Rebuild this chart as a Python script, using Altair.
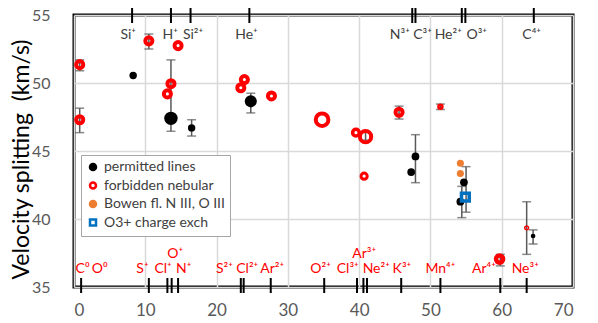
import altair as alt
import pandas as pd

FONT = "Lato"

# ---- data ----
# permitted lines (black dots)
perm_x = [8.3, 13.6, 16.5, 24.8, 47.3, 47.9, 54.7, 54.2, 64.4]
perm_y = [50.55, 47.4, 46.7, 48.65, 43.45, 44.6, 42.7, 41.27, 38.75]
perm_w = [55, 180, 55, 145, 60, 60, 60, 60, 22]

# forbidden nebular lines (red rings)
forb_x = [0.8, 0.8, 10.5, 13.1, 13.6, 14.6, 23.4, 23.9, 27.7, 34.8, 39.55, 40.9, 40.7, 45.6, 51.4, 59.7, 63.5]
forb_y = [51.35, 47.3, 53.1, 49.2, 49.95, 52.75, 49.65, 50.25, 49.05, 47.3, 46.35, 46.05, 43.15, 47.85, 48.25, 37.05, 39.35]
forb_w = [50, 50, 50, 50, 50, 50, 50, 50, 50, 160, 44, 127, 38, 50, 16, 50, 15]
forb_sw = [4, 4, 4, 4, 4, 4, 4, 4, 4, 4, 3.5, 4, 3, 4, 2.5, 4.5, 1.5]

# Bowen fluorescence (orange dots)
bowen_x = [54.2, 54.2]
bowen_y = [44.1, 43.35]
bowen_w = [50, 50]

# O3+ charge exchange (blue square)
cx_x = [54.9]
cx_y = [41.6]
cx_w = [60]

# error bars
err_x = [0.8, 0.8, 10.5, 13.6, 16.5, 24.8, 40.9, 45.6, 51.4, 47.9, 55.0, 54.4, 63.5, 64.4, 59.8]
err_lo = [50.9, 46.35, 52.5, 46.45, 46.1, 47.8, 45.8, 47.35, 48.05, 42.67, 40.5, 40.1, 37.4, 38.16, 36.55]
err_hi = [51.7, 48.15, 53.6, 51.7, 47.3, 49.25, 46.4, 48.3, 48.45, 46.2, 43.85, 42.4, 41.27, 39.2, 37.4]

# ions on top axis (permitted)
top_ion_e = [8.15, 13.6, 16.35, 24.6, 47.45, 47.9, 54.4, 54.9, 64.5]
top_lab = ["Si⁺", "H⁺", "Si²⁺", "He⁺", "N³⁺", "C³⁺", "He²⁺", "O³⁺", "C⁴⁺"]
top_lab_x = [7.6, 13.5, 16.7, 24.2, 45.7, 48.9, 52.5, 56.5, 64.2]

# ions on bottom axis (forbidden)
bot_ion_e = [1.0, 10.5, 13.1, 13.7, 14.6, 23.4, 23.8, 27.6, 35.1, 39.7, 40.6, 41.1, 45.9, 51.4, 59.8, 63.5]
bot_lab = ["C⁰", "O⁰", "S⁺", "Cl⁺", "N⁺", "S²⁺", "Cl²⁺", "Ar²⁺", "O²⁺", "Cl³⁺", "Ne²⁺", "K³⁺", "Mn⁴⁺", "Ar⁴⁺", "Ne³⁺"]
bot_lab_x = [1.2, 3.6, 9.6, 12.5, 15.4, 21.1, 24.3, 27.8, 34.6, 38.4, 42.4, 46.0, 51.4, 57.5, 63.3]
bot_up_lab = ["O⁺", "Ar³⁺"]
bot_up_lab_x = [14.2, 40.7]

SERIES = ["permitted lines", "forbidden nebular", "Bowen fl. N III, O III", "O3+ charge exch"]

pts = pd.concat([
    pd.DataFrame({"x": perm_x, "y": perm_y, "w": perm_w, "series": SERIES[0], "sw": 0.0}),
    pd.DataFrame({"x": forb_x, "y": forb_y, "w": forb_w, "series": SERIES[1], "sw": forb_sw}),
    pd.DataFrame({"x": bowen_x, "y": bowen_y, "w": bowen_w, "series": SERIES[2], "sw": 0.0}),
    pd.DataFrame({"x": cx_x, "y": cx_y, "w": cx_w, "series": SERIES[3], "sw": 3.5}),
], ignore_index=True)

err = pd.DataFrame({"x": err_x, "lo": err_lo, "hi": err_hi})
top_t = pd.DataFrame({"x": top_ion_e})
top_l = pd.DataFrame({"x": top_lab_x, "t": top_lab})
bot_t = pd.DataFrame({"x": bot_ion_e})
bot_l = pd.DataFrame({"x": bot_lab_x, "t": bot_lab})
bot_u = pd.DataFrame({"x": bot_up_lab_x, "t": bot_up_lab})

xs = alt.Scale(domain=[0, 70], nice=False, zero=False)
ys = alt.Scale(domain=[35, 55], nice=False, zero=False)

X = alt.X("x:Q", scale=xs, axis=alt.Axis(values=list(range(0, 71, 10)), title=None,
          labelFontSize=17, labelColor="#595959", labelPadding=15, tickSize=0,
          domain=False, grid=True, gridColor="#d9d9d9", gridWidth=1.5, labelFont=FONT))

ERR_C = "#595959"
rules = alt.Chart(err).mark_rule(color=ERR_C, strokeWidth=1.5).encode(
    x=X,
    y=alt.Y("lo:Q", scale=ys, axis=alt.Axis(values=list(range(35, 56, 5)),
            title="Velocity splitting \u00a0(km/s)", titleFontSize=23, titleColor="black",
            titleFontWeight="normal", titleFont=FONT, titleX=-53, titleY=144,
            titleAlign="center", titleBaseline="middle", titleAngle=-90,
            labelFontSize=16, labelColor="#595959", labelPadding=24, tickSize=0,
            domain=False, grid=True, gridColor="#d9d9d9", gridWidth=1.5, labelFont=FONT)),
    y2="hi:Q")
cap_lo = alt.Chart(err).mark_tick(color=ERR_C, orient="horizontal", size=9, thickness=1.5).encode(
    x="x:Q", y="lo:Q")
cap_hi = alt.Chart(err).mark_tick(color=ERR_C, orient="horizontal", size=9, thickness=1.5).encode(
    x="x:Q", y="hi:Q")

points = alt.Chart(pts).mark_point(opacity=1, filled=False).encode(
    x="x:Q", y="y:Q",
    shape=alt.Shape("series:N", title=None,
                    scale=alt.Scale(domain=SERIES, range=["circle", "circle", "circle", "square"])),
    stroke=alt.Stroke("series:N", title=None,
                      scale=alt.Scale(domain=SERIES, range=["black", "#ff0000", "#ED7D31", "#0070C0"])),
    fill=alt.Fill("series:N", title=None,
                  scale=alt.Scale(domain=SERIES, range=["black", "transparent", "#ED7D31", "transparent"])),
    size=alt.Size("w:Q", scale=None, legend=None),
    strokeWidth=alt.StrokeWidth("sw:Q", scale=None, legend=None),
)

top_ticks = alt.Chart(top_t).mark_rule(color="black", strokeWidth=2).encode(
    x="x:Q", y=alt.value(-7), y2=alt.value(8))
top_text = alt.Chart(top_l).mark_text(fontSize=14, color="#404040", font=FONT, baseline="middle").encode(
    x="x:Q", y=alt.value(20), text="t:N")
bot_ticks = alt.Chart(bot_t).mark_rule(color="black", strokeWidth=2).encode(
    x="x:Q", y=alt.value(263), y2=alt.value(278))
bot_text = alt.Chart(bot_l).mark_text(fontSize=14, color="#ff0000", font=FONT, baseline="middle").encode(
    x="x:Q", y=alt.value(254), text="t:N")
bot_text_up = alt.Chart(bot_u).mark_text(fontSize=14, color="#ff0000", font=FONT, baseline="middle").encode(
    x="x:Q", y=alt.value(239), text="t:N")

chart = alt.layer(rules, cap_lo, cap_hi, points, top_ticks, top_text, bot_ticks, bot_text, bot_text_up).properties(
    width=499, height=272, autosize="none",
    padding={"left": 66, "top": 7, "right": 17, "bottom": 36},
).configure_view(stroke="black", strokeWidth=3).configure_legend(
    orient="none", legendX=7, legendY=140, padding=5, rowPadding=2.5,
    labelFontSize=14, labelFont=FONT, labelColor="#404040", labelLimit=300,
    symbolSize=36, symbolStrokeWidth=2.5, strokeColor="#a6a6a6", fillColor="white",
    cornerRadius=0,
)

chart.save("out.html", embed_options={"renderer": "svg", "actions": False})
